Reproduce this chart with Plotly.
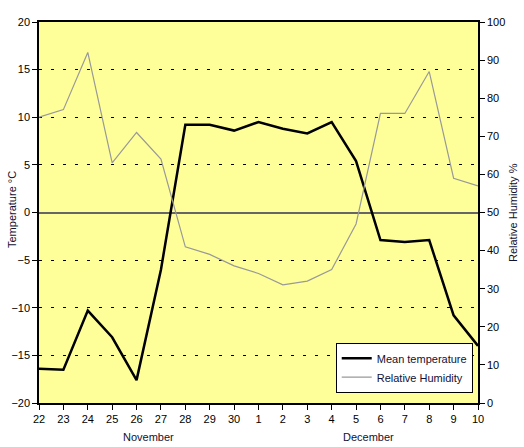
import plotly.graph_objects as go

days = ["22", "23", "24", "25", "26", "27", "28", "29", "30",
        "1", "2", "3", "4", "5", "6", "7", "8", "9", "10"]
mean_temperature = [-16.4, -16.5, -10.3, -13.1, -17.6, -6.0, 9.2, 9.2, 8.6,
                    9.5, 8.8, 8.3, 9.5, 5.4, -2.9, -3.1, -2.9, -10.8, -14.0]
relative_humidity = [75, 77, 92, 63, 71, 64, 41, 39, 36,
                     34, 31, 32, 35, 47, 76, 76, 87, 59, 57]
months = ["November", "December"]
month_pos = [4.5, 13.5]

idx = list(range(len(days)))
FONT = "Arial, Liberation Sans, sans-serif"
TXT = "#111133"

L, R, T, B = 39, 46, 22, 44
W, H = 524, 447
pw, ph = W - L - R, H - T - B


def px_x(px):
    return (px - L) / pw


def px_y(py):
    return (H - B - py) / ph


fig = go.Figure()
fig.add_trace(go.Scatter(x=idx, y=mean_temperature, mode="lines", name="Mean temperature",
                         line=dict(color="black", width=2.5), yaxis="y"))
fig.add_trace(go.Scatter(x=idx, y=relative_humidity, mode="lines", name="Relative Humidity",
                         line=dict(color="#999999", width=1.2), yaxis="y2"))

for m, p in zip(months, month_pos):
    fig.add_annotation(x=p, y=px_y(437), xref="x", yref="paper", text=m, showarrow=False,
                       font=dict(size=11, color=TXT, family=FONT), yanchor="middle")

fig.add_annotation(x=px_x(12), y=px_y(210), xref="paper", yref="paper", text="Temperature °C",
                   textangle=-90, showarrow=False, font=dict(size=11, color=TXT, family=FONT),
                   xanchor="center", yanchor="middle")
fig.add_annotation(x=px_x(513), y=px_y(213), xref="paper", yref="paper", text="Relative Humidity %",
                   textangle=-90, showarrow=False, font=dict(size=11, color=TXT, family=FONT),
                   xanchor="center", yanchor="middle")

fig.update_layout(
    width=W, height=H,
    margin=dict(l=L, r=R, t=T, b=B, autoexpand=False),
    paper_bgcolor="white", plot_bgcolor="#FFFF99",
    font=dict(family=FONT, size=11, color="black"),
    showlegend=True,
    legend=dict(x=0.988, y=0.027, xanchor="right", yanchor="bottom",
                bgcolor="white", bordercolor="black", borderwidth=1,
                font=dict(size=11, color=TXT), tracegroupgap=0,
                itemwidth=30),
    xaxis=dict(range=[0, 18], tickmode="array", tickvals=idx, ticktext=days, automargin=False,
               showgrid=False, zeroline=False, showline=True, linecolor="black", linewidth=1.5,
               mirror=True, ticks="outside", ticklen=5, tickcolor="black",
               tickfont=dict(size=11, color="black")),
    yaxis=dict(range=[-20, 20], dtick=5, tick0=0, showgrid=True, gridcolor="black",
               griddash="3px,9px", gridwidth=1, automargin=False,
               zeroline=True, zerolinecolor="#666666", zerolinewidth=2,
               showline=True, linecolor="black", linewidth=1.5,
               ticks="outside", ticklen=5, tickcolor="black",
               tickfont=dict(size=11, color="black")),
    yaxis2=dict(range=[0, 100], dtick=10, overlaying="y", side="right", showgrid=False,
                zeroline=False, showline=True, linecolor="black", linewidth=1.5, automargin=False,
                ticks="outside", ticklen=5, tickcolor="black",
                tickfont=dict(size=11, color="black")),
)

fig.write_html("out.html", config={"displayModeBar": False},
               post_script="document.body.style.margin='0';document.body.style.overflow='hidden';")
